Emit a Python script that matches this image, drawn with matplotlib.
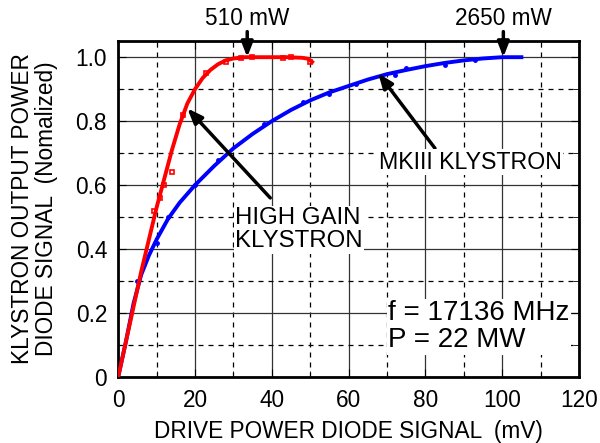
import matplotlib
matplotlib.use('Agg')
import matplotlib.pyplot as plt
from matplotlib.ticker import MultipleLocator

plt.rcParams['font.family'] = ['Liberation Sans', 'DejaVu Sans']

# high gain klystron: measured points and fitted curve
hg_x = [9.4, 10.9, 12.0, 14.0, 16.9, 22.9, 28.0, 32.0, 34.8, 43.0, 45.0, 50.0]
hg_y = [0.52, 0.56, 0.60, 0.64, 0.82, 0.95, 0.985, 0.997, 1.0, 0.997, 1.0, 0.985]
hg_fit_x = [0, 2, 4, 6, 8, 10, 12, 14, 16, 18, 20, 22, 24, 26, 28, 30, 33, 36, 40, 44, 48, 49.5, 50.5]
hg_fit_y = [0, 0.11, 0.22, 0.33, 0.43, 0.53, 0.62, 0.71, 0.79, 0.855, 0.90, 0.935, 0.96, 0.978, 0.99, 0.996, 1.0, 1.0, 1.0, 1.0, 0.998, 0.995, 0.985]

# MKIII klystron
mk_x = [5, 10, 13, 20, 26, 38, 48, 55, 62, 72, 75, 85, 93]
mk_y = [0.30, 0.42, 0.50, 0.60, 0.68, 0.79, 0.86, 0.885, 0.915, 0.945, 0.965, 0.975, 0.99]
mk_fit_x = [0, 2, 4, 6, 8, 10, 13, 16, 20, 25, 30, 35, 40, 45, 50, 55, 60, 65, 70, 75, 80, 85, 90, 95, 100, 105]
mk_fit_y = [0, 0.11, 0.23, 0.32, 0.38, 0.43, 0.495, 0.545, 0.60, 0.66, 0.715, 0.76, 0.80, 0.835, 0.865, 0.89, 0.91, 0.93, 0.947, 0.96, 0.972, 0.982, 0.99, 0.996, 1.0, 1.0]

fs = 16.3

fig = plt.figure(figsize=(6.0, 4.43), dpi=100)
ax = fig.add_axes([0.197, 0.149, 0.768, 0.758])

ax.set_xlim(0, 120)
ax.set_ylim(0, 1.05)
ax.xaxis.set_major_locator(MultipleLocator(20))
ax.xaxis.set_minor_locator(MultipleLocator(10))
ax.yaxis.set_minor_locator(MultipleLocator(0.1))
ax.set_yticks([0, 0.2, 0.4, 0.6, 0.8, 1.0])
ax.set_yticklabels(['0', '0.2', '0.4', '0.6', '0.8', '1.0'])

ax.grid(True, which='major', color='#333333', lw=0.9, ls='-', zorder=0)
ax.grid(True, which='minor', color='black', lw=0.9, ls=(0, (4, 4)), zorder=0)
ax.tick_params(which='both', direction='in', top=True, right=True, labelsize=fs)
ax.tick_params(axis='x', pad=9)
ax.tick_params(axis='y', pad=8)
ax.tick_params(which='major', length=6)
ax.tick_params(which='minor', length=4)
for s in ax.spines.values():
    s.set_linewidth(2)

ax.plot(mk_fit_x, mk_fit_y, color='blue', lw=2.8, zorder=3)
ax.plot(mk_x, mk_y, ls='none', marker='o', ms=2.5, color='blue', zorder=3)
ax.plot(hg_fit_x, hg_fit_y, color='red', lw=2.8, zorder=4)
ax.plot(hg_x, hg_y, ls='none', marker='s', ms=3.5, mfc='none', mec='red', mew=1.2, zorder=4)

# axis titles placed in figure coords
fig.text(0.5 * (0.197 + 0.965), 0.025, 'DRIVE POWER DIODE SIGNAL  (mV)', fontsize=fs,
         ha='center', va='center')
fig.text(0.058, 0.53, 'KLYSTRON OUTPUT POWER\nDIODE SIGNAL  (Nomalized)', fontsize=fs,
         rotation=90, ha='center', va='center', linespacing=1.05)

box = dict(facecolor='white', edgecolor='none', pad=1)
arw = dict(arrowstyle='-|>,head_length=0.9,head_width=0.35', color='black', lw=2.5, shrinkA=0, shrinkB=0)

ax.annotate('', xy=(18, 0.84), xytext=(39.6, 0.56), arrowprops=arw, zorder=5)
ax.text(30.5, 0.46, 'HIGH GAIN\nKLYSTRON', fontsize=17.3, ha='left', va='center',
        linespacing=1.05, bbox=box, zorder=6)

ax.annotate('', xy=(67.7, 0.95), xytext=(82.5, 0.715), arrowprops=arw, zorder=5)
ax.text(91.7, 0.672, 'MKIII KLYSTRON', fontsize=16.7, ha='center', va='center',
        bbox=box, zorder=6)

ax.text(70.3, 0.157, 'f = 17136 MHz\nP = 22 MW', fontsize=20, ha='left', va='center',
        linespacing=1.05, bbox=box, zorder=6)

ax.annotate('', xy=(33.6, 1.0), xytext=(33.6, 1.08), arrowprops=arw,
            annotation_clip=False, zorder=7)
ax.text(33.6, 1.122, '510 mW', fontsize=fs, ha='center', va='center', clip_on=False)
ax.annotate('', xy=(100.3, 1.0), xytext=(100.3, 1.08), arrowprops=arw,
            annotation_clip=False, zorder=7)
ax.text(100.3, 1.122, '2650 mW', fontsize=fs, ha='center', va='center', clip_on=False)

fig.savefig('out.png', dpi=100)
